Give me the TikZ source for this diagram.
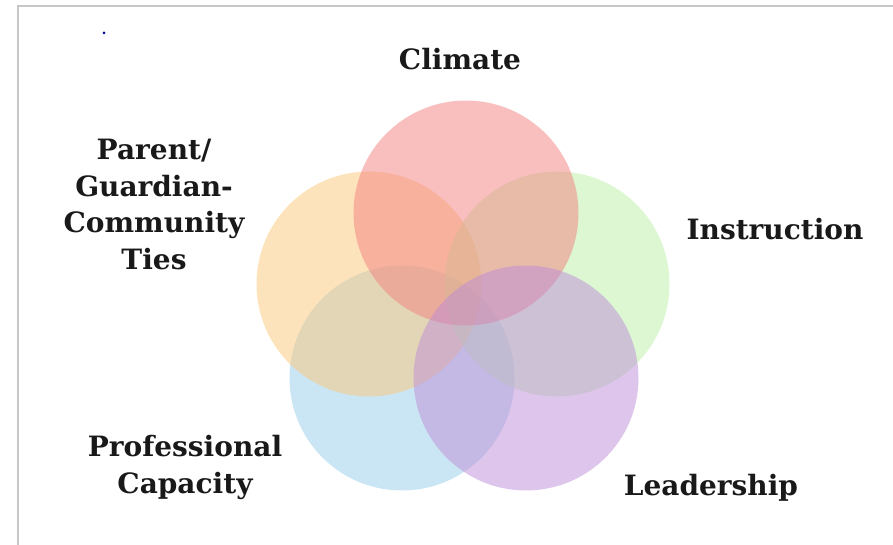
\documentclass[tikz,border=0pt]{standalone}
\usepackage{fontspec}
\setmainfont{DejaVu Serif}
\usetikzlibrary{positioning}
\definecolor{climatered}{RGB}{243,128,128}
\definecolor{instructiongreen}{RGB}{188,240,168}
\definecolor{leadershippurple}{RGB}{190,140,215}
\definecolor{capacityblue}{RGB}{150,205,235}
\definecolor{parentorange}{RGB}{250,200,120}
\tikzset{
venn/.style={circle, minimum size=225pt, inner sep=0pt, draw=none, fill opacity=.5},
vennlabel/.style={align=center, anchor=base, text=black!90, font=\bfseries\fontsize{28}{36.5}\selectfont},
}

\begin{document}
\begin{tikzpicture}[x=1pt, y=-1pt]
\useasboundingbox (0,0) rectangle (893,545);
% Frame
\draw [black!22, line width=1.5pt] (18,545) |- (893,6);
\fill [blue!60!black] (104,33) circle (1.5pt);

% Circles
\node (capacity) [venn, fill=capacityblue] at (402,378) {};
\node (parent) [venn, fill=parentorange] at (369,284) {};
\node (instruction) [venn, fill=instructiongreen] at (557,284) {};
\node (climate) [venn, fill=climatered] at (466,213) {};
\node (leadership) [venn, fill=leadershippurple] at (526,378) {};

% Labels (base = last line)
\node (climatelabel) [vennlabel] at (460,70) {Climate};
\node (parentlabel) [vennlabel] at (154,269) {Parent/\\ Guardian-\\ Community\\ Ties};
\node (instructionlabel) [vennlabel] at (775,240) {Instruction};
\node (leadershiplabel) [vennlabel] at (711,495) {Leadership};
\node (capacitylabel) [vennlabel] at (185,493) {Professional\\ Capacity};

\end{tikzpicture}
\end{document}
